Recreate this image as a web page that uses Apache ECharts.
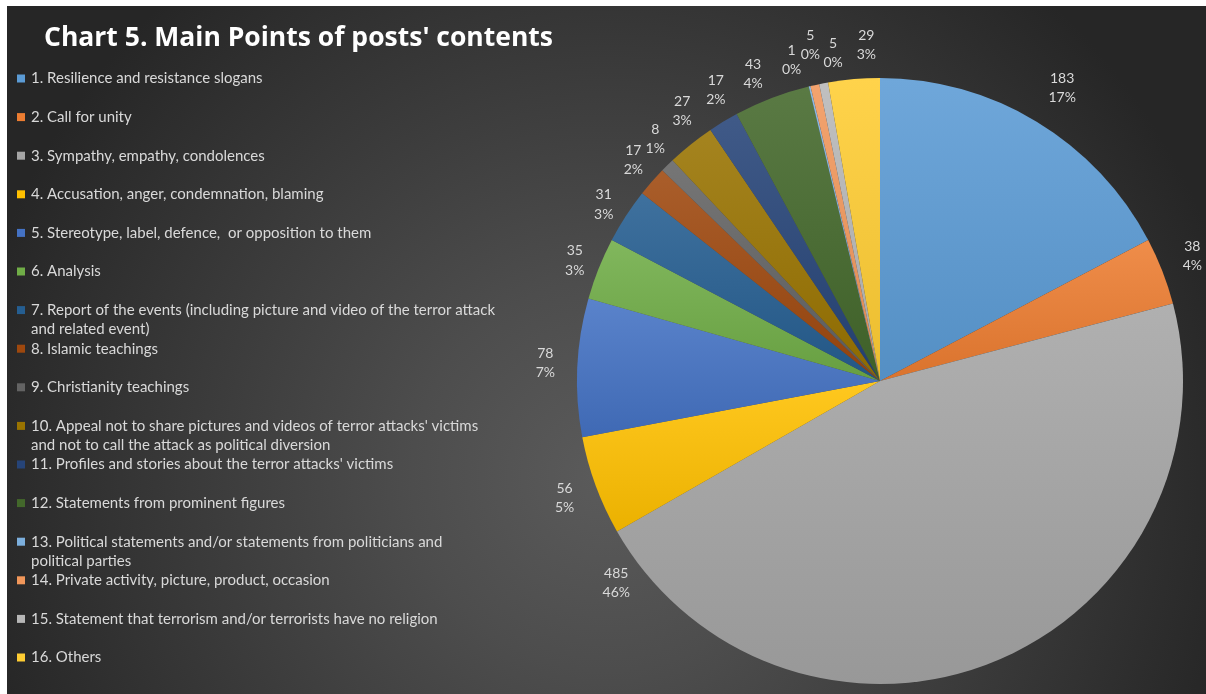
<!DOCTYPE html>
<html>
<head>
<meta charset="utf-8">
<title>Chart 5. Main Points of posts' contents</title>
<script src="https://cdn.jsdelivr.net/npm/echarts@6/dist/echarts.min.js"></script>
<style>
  html, body { margin: 0; padding: 0; background: #ffffff; width: 1206px; height: 694px; overflow: hidden; }
  #frame {
    position: absolute; left: 7px; top: 6px; width: 1199px; height: 688px;
    background: radial-gradient(circle 650px at 600px 470px, #5b5b5b 0%, #4d4d4d 30%, #262626 100%);
  }
  #chart { width: 1199px; height: 688px; }
</style>
</head>
<body>
<div id="frame"><div id="chart"></div></div>
<script>
// Categories of post content (legend wraps long names onto a second line)
const categories = [
  '1. Resilience and resistance slogans',
  '2. Call for unity',
  '3. Sympathy, empathy, condolences',
  '4. Accusation, anger, condemnation, blaming',
  '5. Stereotype, label, defence,  or opposition to them',
  '6. Analysis',
  '7. Report of the events (including picture and video of the terror attack\nand related event)',
  '8. Islamic teachings',
  '9. Christianity teachings',
  "10. Appeal not to share pictures and videos of terror attacks' victims\nand not to call the attack as political diversion",
  "11. Profiles and stories about the terror attacks' victims",
  '12. Statements from prominent figures',
  '13. Political statements and/or statements from politicians and\npolitical parties',
  '14. Private activity, picture, product, occasion',
  '15. Statement that terrorism and/or terrorists have no religion',
  '16. Others'
];

// Number of posts per category
const counts = [183, 38, 485, 56, 78, 35, 31, 17, 8, 27, 17, 43, 1, 5, 5, 29];

// Slice colours, in category order
const sliceColors = [
  '#5B9BD5', '#ED7D31', '#A5A5A5', '#FFC000', '#4472C4', '#70AD47', '#255E91', '#9E480E',
  '#636363', '#997300', '#264478', '#43682B', '#7CAFDD', '#F1975A', '#B7B7B7', '#FFCD33'
];

// Small offsets that keep crowded value labels apart
const labelNudge = {
  0: [10, -8], 1: [2, -4], 2: [-390, -106], 3: [-3, 2], 4: [-2, -3], 5: [4, 3],
  6: [3, 5], 7: [4, -2], 8: [9, -5], 9: [10, -10], 10: [8, -6], 11: [-8, 4],
  12: [-11, 3], 13: [2, -11], 14: [15, -1], 15: [15, -4]
};

function mix(hex, target, t) {
  const a = parseInt(hex.slice(1), 16);
  const r = (a >> 16) & 255, g = (a >> 8) & 255, b = a & 255;
  const m = v => Math.round(v + (target - v) * t);
  return 'rgb(' + m(r) + ',' + m(g) + ',' + m(b) + ')';
}

function sliceFill(hex) {
  return {
    type: 'linear', x: 0, y: 0, x2: 0, y2: 1,
    colorStops: [
      { offset: 0, color: mix(hex, 255, 0.12) },
      { offset: 1, color: mix(hex, 0, 0.08) }
    ]
  };
}

const pieCenter = [873, 375];
const pieRadius = 303;
const textFont = 'Lato';
const textColor = '#d9d9d9';

const sliceData = categories.map((name, i) => ({
  name: name,
  value: counts[i],
  itemStyle: { color: sliceFill(sliceColors[i]) }
}));

const labelData = categories.map((name, i) => ({ name: name, value: counts[i] }));

// Legend entries are rich text: a coloured square followed by the wrapped name
const legendRich = {
  t: { fontFamily: textFont, fontSize: 15, lineHeight: 19.3, color: textColor },
  gap: { width: 6, height: 8 },
  ind: { width: 14, height: 8 }
};
sliceColors.forEach((c, i) => {
  legendRich['s' + i] = { width: 8, height: 8, backgroundColor: c, verticalAlign: 'middle' };
});

const chart = echarts.init(document.getElementById('chart'), null, { renderer: 'canvas' });

chart.setOption({
  backgroundColor: 'transparent',
  animation: false,
  color: sliceColors,
  title: {
    text: "Chart 5. Main Points of posts' contents",
    left: 32,
    top: 14,
    textStyle: { fontFamily: 'Open Sans', fontWeight: 'bold', fontSize: 26.5, color: '#ffffff' }
  },
  legend: {
    orient: 'vertical',
    left: 0,
    top: 60,
    height: 660,
    itemGap: 4.3,
    itemWidth: 0,
    itemHeight: 10,
    icon: 'rect',
    itemStyle: { opacity: 0 },
    selectedMode: false,
    data: categories,
    formatter: function (name) {
      const i = categories.indexOf(name);
      const lines = name.split('\n');
      let out = '{s' + i + '|}{gap|}{t|' + lines[0] + '}';
      out += '\n' + (lines[1] ? '{ind|}{t|' + lines[1] + '}' : '{t| }');
      return out;
    },
    textStyle: { rich: legendRich, color: textColor }
  },
  series: [
    {
      name: 'Main points',
      type: 'pie',
      center: pieCenter,
      radius: pieRadius,
      startAngle: 90,
      clockwise: true,
      label: { show: false },
      labelLine: { show: false },
      emphasis: { disabled: true },
      data: sliceData
    },
    {
      // invisible ring that carries the value / share labels just outside the pie
      name: 'Labels',
      type: 'pie',
      center: pieCenter,
      radius: [pieRadius + 15, pieRadius + 39],
      startAngle: 90,
      clockwise: true,
      silent: true,
      itemStyle: { color: 'rgba(0,0,0,0)' },
      emphasis: { disabled: true },
      labelLine: { show: false },
      label: {
        show: true,
        position: 'inside',
        color: textColor,
        fontFamily: textFont,
        fontSize: 14,
        lineHeight: 19.5,
        textBorderWidth: 0,
        formatter: function (p) {
          return p.value + '\n' + Math.round(p.percent) + '%';
        }
      },
      labelLayout: function (p) {
        const n = labelNudge[p.dataIndex] || [0, 0];
        return { dx: n[0], dy: n[1] };
      },
      data: labelData
    }
  ]
});
</script>
</body>
</html>
